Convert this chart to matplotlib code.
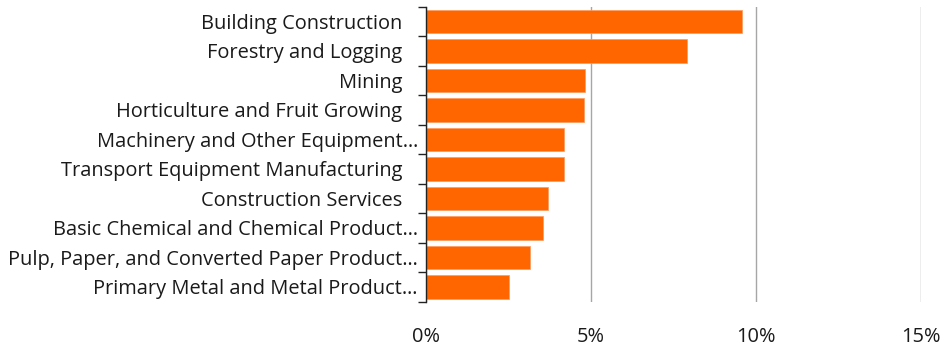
import numpy as np
import matplotlib.pyplot as plt
from matplotlib.ticker import FixedLocator, PercentFormatter

plt.rcParams['font.family'] = ['Open Sans', 'DejaVu Sans']

# industries, largest share first
industries = [
    "Building Construction   ",
    "Forestry and Logging   ",
    "Mining   ",
    "Horticulture and Fruit Growing   ",
    "Machinery and Other Equipment…",
    "Transport Equipment Manufacturing   ",
    "Construction Services   ",
    "Basic Chemical and Chemical Product…",
    "Pulp, Paper, and Converted Paper Product…",
    "Primary Metal and Metal Product…",
]
shares = [9.58, 7.92, 4.82, 4.78, 4.17, 4.17, 3.68, 3.53, 3.16, 2.52]
x_ticks = [0, 5, 10, 15]

fig = plt.figure(figsize=(9.46, 3.46), dpi=100)
ax = fig.add_axes([0.4506, 0.128, 0.9736 - 0.4506, 0.9806 - 0.128])

y = np.arange(len(industries))
ax.barh(y, shares, height=0.8, color="#FF6600", edgecolor="#FF9A5C", linewidth=0.5, zorder=3)

ax.set_ylim(len(industries) - 0.5, -0.5)
ax.set_xlim(0, 15)

ax.set_yticks(y)
ax.set_yticklabels(industries, fontsize=14.4, color="#1a1a1a")
ax.tick_params(axis="y", which="major", length=0, pad=6)
ax.yaxis.set_minor_locator(FixedLocator(np.arange(-0.5, len(industries), 1.0)))
ax.tick_params(axis="y", which="minor", length=6, width=1, color="#222222")

ax.xaxis.set_major_locator(FixedLocator(x_ticks))
ax.xaxis.set_major_formatter(PercentFormatter(decimals=0))
ax.tick_params(axis="x", length=0, pad=18, labelsize=14.4, labelcolor="#1a1a1a")
ax.grid(axis="x", color="#a6a6a6", linewidth=1, zorder=0)

for side in ["top", "right", "bottom"]:
    ax.spines[side].set_visible(False)
ax.spines["left"].set_color("#222222")
ax.spines["left"].set_linewidth(1)
ax.spines["left"].set_zorder(4)

fig.savefig("out.png", dpi=100)
